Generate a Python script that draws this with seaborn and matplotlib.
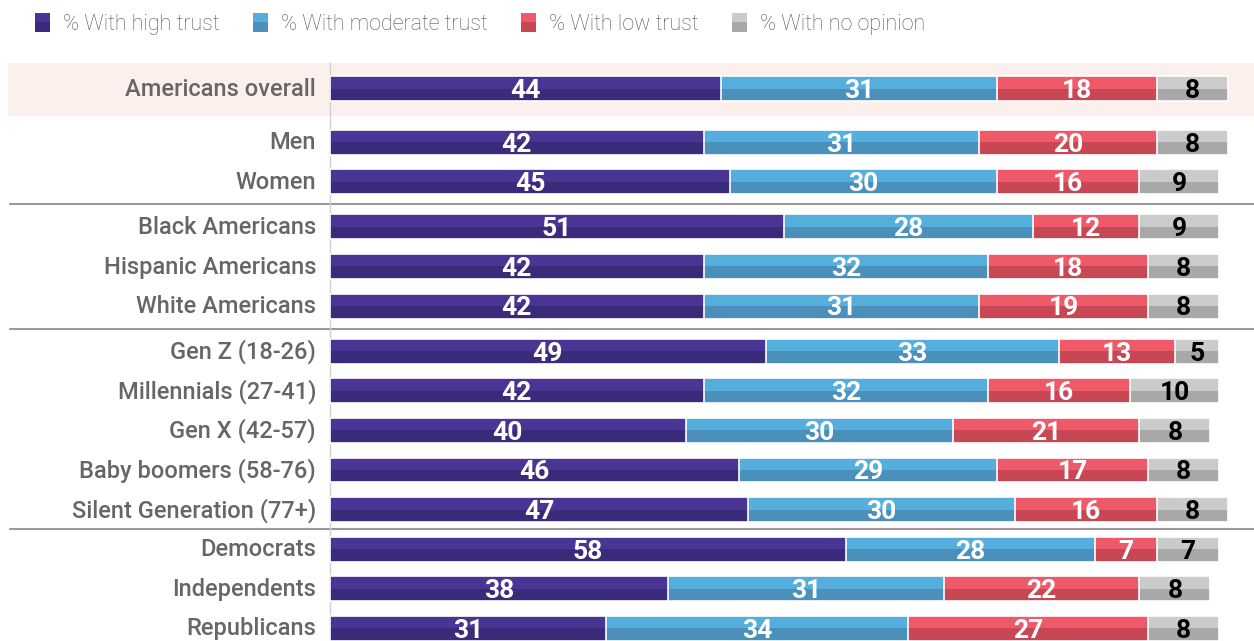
import numpy as np
import pandas as pd
import matplotlib
matplotlib.use("Agg")
import matplotlib.pyplot as plt
import matplotlib.transforms as mtransforms
from matplotlib.patches import Rectangle
from matplotlib.legend_handler import HandlerBase
import seaborn as sns

# Data
groups = [
    ["Americans overall"],
    ["Men", "Women"],
    ["Black Americans", "Hispanic Americans", "White Americans"],
    ["Gen Z (18-26)", "Millennials (27-41)", "Gen X (42-57)",
     "Baby boomers (58-76)", "Silent Generation (77+)"],
    ["Democrats", "Independents", "Republicans"],
]
high_trust = [44, 42, 45, 51, 42, 42, 49, 42, 40, 46, 47, 58, 38, 31]
moderate_trust = [31, 31, 30, 28, 32, 31, 33, 32, 30, 29, 30, 28, 31, 34]
low_trust = [18, 20, 16, 12, 18, 19, 13, 16, 21, 17, 16, 7, 22, 27]
no_opinion = [8, 8, 9, 9, 8, 8, 5, 10, 8, 8, 8, 7, 8, 8]
series_names = ["% With high trust", "% With moderate trust",
                "% With low trust", "% With no opinion"]

# colours: (top half, bottom half)
tones = [("#4a3594", "#3a2a7a"), ("#56aedd", "#4a90ba"),
         ("#ef5a69", "#c84754"), ("#cbcbcb", "#a8a8a8")]
label_colors = ["white", "white", "white", "black"]

# row positions: 1 unit per row, extra gap before some groups
gap_before = [0, 0.35, 0.14, 0.14, 0.0]
categories, ypos = [], []
cur = -1.0
for g, gap in zip(groups, gap_before):
    cur += gap
    for name in g:
        cur += 1.0
        categories.append(name)
        ypos.append(round(cur, 3))

df = pd.DataFrame({"category": categories, "pos": ypos,
                   "high": high_trust, "moderate": moderate_trust,
                   "low": low_trust, "none": no_opinion})
cols = ["high", "moderate", "low", "none"]
cum = df[cols].cumsum(axis=1)

W, H = 1254, 641
fig = plt.figure(figsize=(W / 100, H / 100), dpi=100)
sns.set_style("white")
ax = fig.add_axes([330 / W, 0, 924 / W, (H - 63) / H])

bar_w = 0.63
# draw cumulative bars from longest to shortest so they stack
layer_patches = []
for i in reversed(range(4)):
    n_before = len(ax.patches)
    sns.barplot(x=cum[cols[i]], y=df["pos"], orient="h", native_scale=True,
                color=tones[i][1], width=bar_w, linewidth=0, saturation=1,
                ax=ax)
    layer_patches.append((i, ax.patches[n_before:]))

# two-tone look: lighter top half plus white frame for each segment
for i, patches in layer_patches:
    z = 2 + (3 - i)
    for p in patches:
        p.set_zorder(z)
        x0, y0 = p.get_x(), p.get_y()
        w, h = p.get_width(), p.get_height()
        ax.add_patch(Rectangle((x0, y0), w, h / 2, facecolor=tones[i][0],
                               edgecolor="none", zorder=z + 0.1))
        ax.add_patch(Rectangle((x0, y0), w, h, fill=False,
                               edgecolor="white", lw=1.2, zorder=z + 0.2))

# value labels
for i, c in enumerate(cols):
    starts = cum[c] - df[c]
    for s, v, y in zip(starts, df[c], df["pos"]):
        ax.text(s + v / 2, y + 0.06, f"{v}", ha="center", va="center",
                fontsize=19, fontweight="bold", color=label_colors[i],
                family=["Liberation Sans Narrow", "Roboto", "DejaVu Sans"],
                zorder=10)

ax.set_xlim(0, 103.9)
ax.set_ylim(13.95, -0.65)
ax.set_xticks([])
ax.set_yticks(df["pos"] - 0.05)
ax.set_yticklabels(categories, fontsize=17, color="#666666",
                   fontweight="medium", family=["Roboto", "DejaVu Sans"])
ax.tick_params(axis="y", length=0, pad=10)
for s in ["top", "right", "bottom"]:
    ax.spines[s].set_visible(False)
ax.spines["left"].set_color("#d0d0d0")
ax.spines["left"].set_linewidth(1)
ax.set_xlabel("")
ax.set_ylabel("")
ax.patch.set_alpha(0)

# highlight band for the overall row and group separators
blend = mtransforms.blended_transform_factory(fig.transFigure, ax.transData)
first = df["pos"].iloc[0]
ax.add_patch(Rectangle((8 / W, first - 0.65), 1 - 8 / W, 1.34,
                       facecolor="#fcf0ec", edgecolor="none",
                       transform=blend, clip_on=False, zorder=0))
idx = np.cumsum([len(g) for g in groups])
for k in idx[1:-1]:
    ymid = (df["pos"].iloc[k - 1] + df["pos"].iloc[k]) / 2
    ax.plot([10 / W, 1], [ymid, ymid], color="#9a9a9a", lw=1.5,
            transform=blend, clip_on=False, zorder=1)


# legend with two-tone keys
class TwoToneKey:
    def __init__(self, top, bot):
        self.top, self.bot = top, bot


class TwoToneHandler(HandlerBase):
    def create_artists(self, legend, orig, xd, yd, width, height, fontsize, trans):
        r1 = Rectangle((-xd, -yd + height / 2), width, height / 2,
                       facecolor=orig.top, edgecolor="none", transform=trans)
        r2 = Rectangle((-xd, -yd), width, height / 2,
                       facecolor=orig.bot, edgecolor="none", transform=trans)
        return [r1, r2]


keys = [TwoToneKey(*t) for t in tones]
fig.legend(keys, series_names, handler_map={TwoToneKey: TwoToneHandler()},
           loc="upper left", bbox_to_anchor=(35 / W, 1 - 13 / H), ncol=4,
           frameon=False, borderpad=0, borderaxespad=0,
           handlelength=0.7, handleheight=0.95, handletextpad=0.6,
           columnspacing=1.55,
           prop={"family": ["Roboto", "DejaVu Sans"], "weight": "light",
                 "size": 15.5})
for t in fig.legends[0].get_texts():
    t.set_color("#555555")

fig.savefig("out.png", dpi=100)
